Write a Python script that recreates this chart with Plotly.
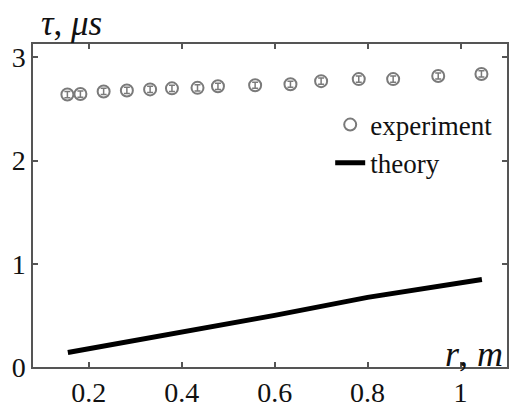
import plotly.graph_objects as go

# experiment data
r_exp = [0.154, 0.182, 0.232, 0.282, 0.332, 0.379, 0.434, 0.478, 0.558, 0.634, 0.700, 0.781, 0.855, 0.952, 1.045]
tau_exp = [2.64, 2.645, 2.67, 2.68, 2.69, 2.70, 2.705, 2.72, 2.73, 2.74, 2.77, 2.79, 2.79, 2.82, 2.84]
tau_err = [0.03] * len(r_exp)

# theory curve
r_th = [0.155, 0.344, 0.6, 0.8, 1.046]
tau_th = [0.14, 0.29, 0.50, 0.675, 0.847]

x_ticks = [0.2, 0.4, 0.6, 0.8, 1.0]
x_ticklabels = ["0.2", "0.4", "0.6", "0.8", "1"]
y_ticks = [0, 1, 2, 3]

SERIF = "'Liberation Serif', 'Times New Roman', serif"
AX = "#555555"
GRAY = "#7a7a7a"

fig = go.Figure()
fig.add_trace(go.Scatter(
    x=r_exp, y=tau_exp, mode="markers", name="experiment",
    marker=dict(symbol="circle-open", size=12, color=GRAY, line=dict(width=2, color=GRAY)),
    error_y=dict(type="data", array=tau_err, visible=True, color=GRAY, thickness=1.5, width=3),
))
fig.add_trace(go.Scatter(
    x=r_th, y=tau_th, mode="lines", name="theory",
    line=dict(color="black", width=5),
))

fig.update_layout(
    width=509, height=408,
    margin=dict(l=33, r=0, t=44, b=28),
    paper_bgcolor="white", plot_bgcolor="white",
    font=dict(family=SERIF, size=26, color="#111111"),
    showlegend=True,
    legend=dict(x=0.627, y=0.825, xanchor="left", yanchor="top",
                bgcolor="rgba(0,0,0,0)", font=dict(family=SERIF, size=27, color="#111111"),
                itemsizing="trace", tracegroupgap=0),
    xaxis=dict(range=[0.08, 1.1], tickvals=x_ticks, ticktext=x_ticklabels,
               ticks="inside", ticklen=5, tickcolor=AX, tickwidth=1.5,
               showline=True, linecolor=AX, linewidth=1.5, mirror="ticks",
               showgrid=False, zeroline=False,
               tickfont=dict(family=SERIF, size=28)),
    yaxis=dict(range=[0, 3.13], tickvals=y_ticks,
               ticks="inside", ticklen=5, tickcolor=AX, tickwidth=1.5,
               showline=True, linecolor=AX, linewidth=1.5, mirror="ticks",
               showgrid=False, zeroline=False,
               tickfont=dict(family=SERIF, size=28)),
    annotations=[
        dict(text="<i>τ</i>, <i>μs</i>", xref="paper", yref="paper", x=0.015, y=1.128,
             xanchor="left", yanchor="top", showarrow=False, borderpad=0,
             font=dict(family=SERIF, size=35, color="#111111")),
        dict(text="<i>r</i>, <i>m</i>", xref="paper", yref="paper", x=0.995, y=-0.027,
             xanchor="right", yanchor="bottom", showarrow=False,
             font=dict(family=SERIF, size=36, color="#111111")),
    ],
)

fig.write_html("out.html")
